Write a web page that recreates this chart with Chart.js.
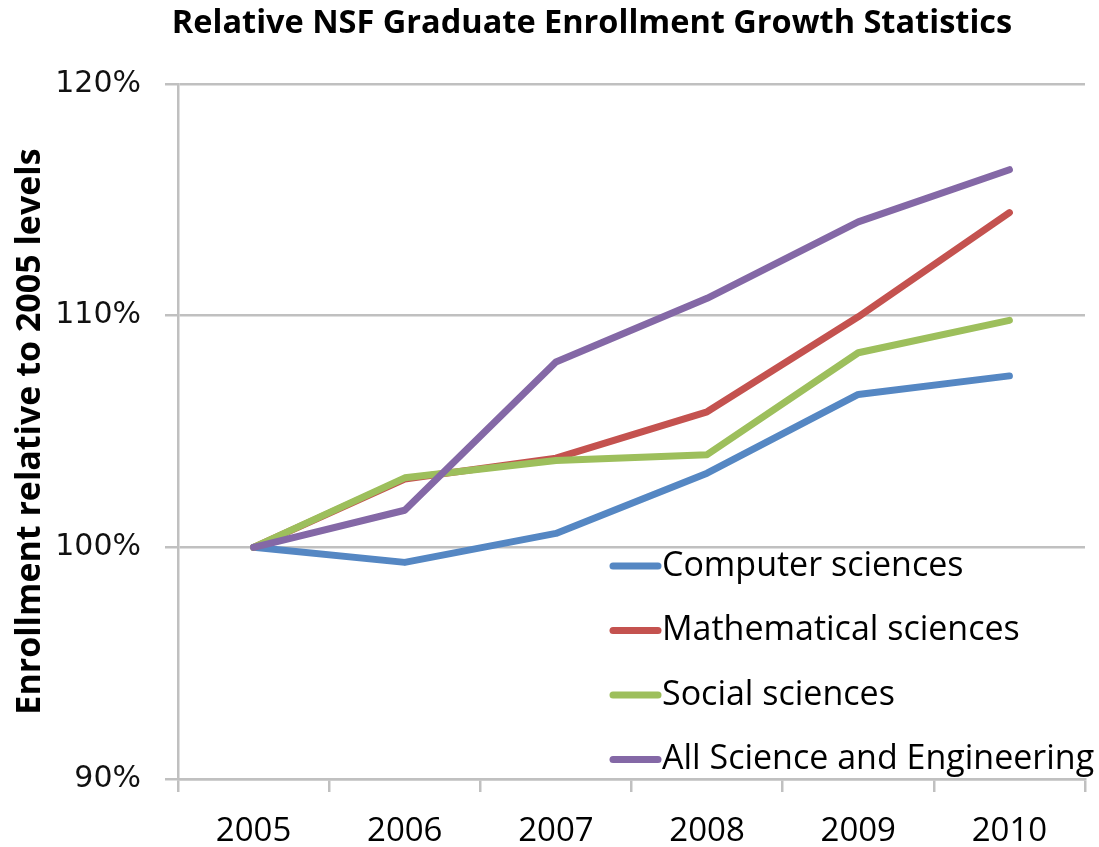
<!DOCTYPE html>
<html>
<head>
<meta charset="utf-8">
<script src="https://cdn.jsdelivr.net/npm/chart.js@4"></script>
<style>
  html, body { margin: 0; padding: 0; background: #fff; }
  #wrap { width: 1099px; height: 847px; }
</style>
</head>
<body>
<div id="wrap"><canvas id="myChart" width="1099" height="847"></canvas></div>
<script>
const years = ['2005', '2006', '2007', '2008', '2009', '2010'];
const computerSci = [100, 99.35, 100.6, 103.2, 106.6, 107.4];
const mathSci = [100, 102.95, 103.85, 105.85, 109.95, 114.45];
const socialSci = [100, 103.0, 103.75, 104.0, 108.4, 109.8];
const allSciEng = [100, 101.6, 108.0, 110.75, 114.05, 116.3];
const yTicks = [90, 100, 110, 120];

const chartTitle = 'Relative NSF Graduate Enrollment Growth Statistics';
const font = '"Open Sans", "Noto Sans", sans-serif';
const grey = '#c0c0c0';

// title drawn by hand so it can sit a bit left of centre, as in the original
const topTitle = {
    id: 'topTitle',
    afterDraw(chart) {
        const { ctx } = chart;
        ctx.save();
        ctx.font = 'bold 32.5px ' + font;
        ctx.fillStyle = '#000';
        ctx.textAlign = 'center';
        ctx.textBaseline = 'middle';
        ctx.fillText(chartTitle, 592, 24);
        ctx.restore();
    }
};

// legend drawn inside the plot area
const insideLegend = {
    id: 'insideLegend',
    afterDatasetsDraw(chart) {
        const { ctx, chartArea } = chart;
        const x0 = chartArea.left + 435;
        const y0 = chartArea.top + 482;
        const rowGap = 64.5;
        ctx.save();
        ctx.font = '34px ' + font;
        ctx.textBaseline = 'middle';
        ctx.textAlign = 'left';
        chart.data.datasets.forEach((ds, i) => {
            const y = y0 + i * rowGap;
            ctx.strokeStyle = ds.borderColor;
            ctx.lineWidth = 7;
            ctx.lineCap = 'round';
            ctx.beginPath();
            ctx.moveTo(x0, y);
            ctx.lineTo(x0 + 45, y);
            ctx.stroke();
            ctx.fillStyle = '#000';
            ctx.fillText(ds.label, x0 + 49, y);
        });
        ctx.restore();
    }
};

const ctx = document.getElementById('myChart').getContext('2d');
const lineStyle = { borderWidth: 7, pointRadius: 0, tension: 0, borderCapStyle: 'round', borderJoinStyle: 'round', fill: false };

const chart = new Chart(ctx, {
    type: 'line',
    data: {
        labels: years,
        datasets: [
            { label: 'Computer sciences', data: computerSci, borderColor: '#5587C3', order: 3, ...lineStyle },
            { label: 'Mathematical sciences', data: mathSci, borderColor: '#C4524F', order: 2, ...lineStyle },
            { label: 'Social sciences', data: socialSci, borderColor: '#9DBF5C', order: 1, ...lineStyle },
            { label: 'All Science and Engineering', data: allSciEng, borderColor: '#8468A6', order: 0, ...lineStyle }
        ]
    },
    options: {
        responsive: false,
        animation: false,
        layout: { padding: { left: 0, right: 14, top: 84, bottom: 0 } },
        plugins: {
            legend: { display: false },
            tooltip: { enabled: false },
            title: { display: false }
        },
        scales: {
            x: {
                offset: true,
                grid: { offset: true, drawOnChartArea: false, drawTicks: true, tickLength: 13, color: grey, lineWidth: 2.5 },
                border: { display: true, color: grey, width: 2.5 },
                ticks: { color: '#000', padding: 20, font: { family: font, size: 33 } },
                afterFit(scale) { scale.height = 68; }
            },
            y: {
                min: 90,
                max: 120,
                afterBuildTicks(scale) { scale.ticks = yTicks.map(v => ({ value: v })); },
                grid: { color: grey, lineWidth: 2.5, drawTicks: true, tickLength: 13 },
                border: { display: true, color: grey, width: 2.5 },
                ticks: {
                    color: '#111',
                    padding: 24,
                    font: { family: '"DejaVu Sans", Verdana, sans-serif', size: 30 },
                    callback: (v) => v + '%'
                },
                title: {
                    display: true,
                    text: 'Enrollment relative to 2005 levels',
                    color: '#000',
                    font: { family: font, size: 34, weight: 'bold', lineHeight: 1.2 },
                    padding: { top: 10, bottom: 0 }
                },
                afterFit(scale) { scale.width = 178; }
            }
        }
    },
    plugins: [insideLegend, topTitle]
});
</script>
</body>
</html>
